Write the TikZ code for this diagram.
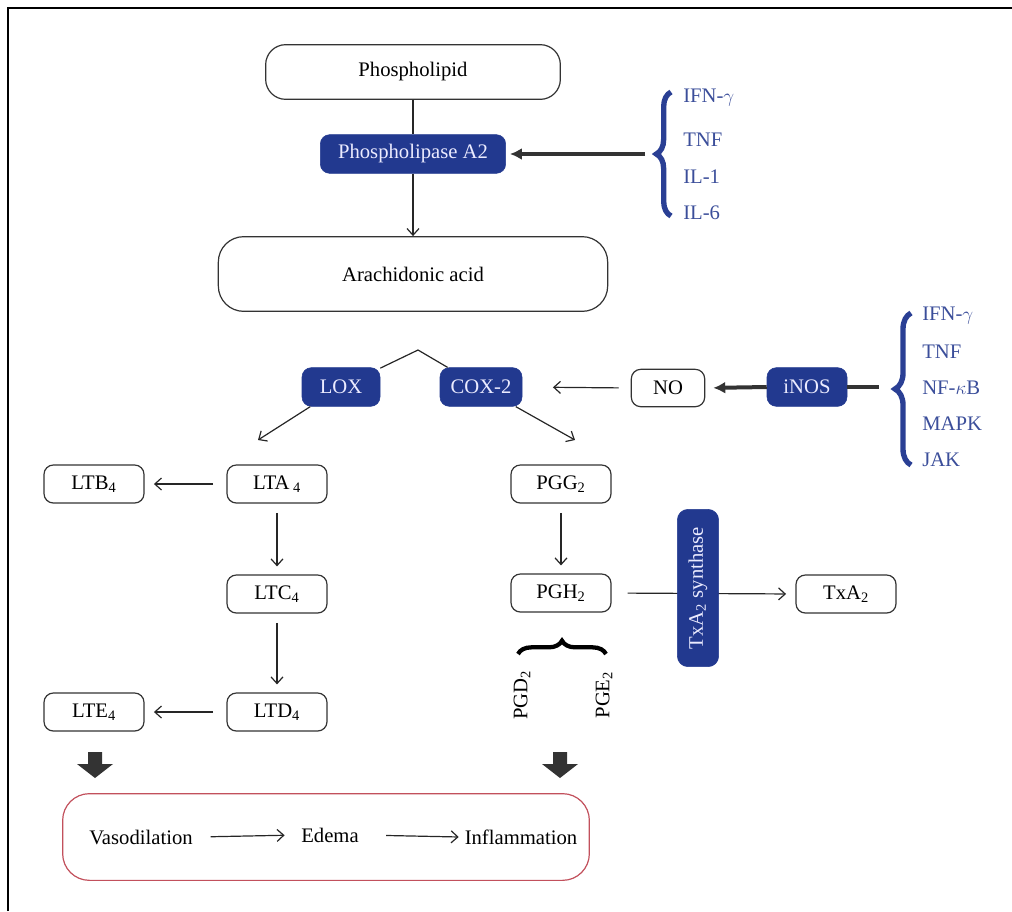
\documentclass[tikz,border=0pt]{standalone}
\usepackage{fontspec}
\setmainfont{Liberation Serif}
\usetikzlibrary{arrows.meta,decorations.pathreplacing,calc}
\definecolor{nblue}{HTML}{22398F}
\definecolor{tblue}{HTML}{3B4E9A}
\definecolor{bracec}{HTML}{2A3F94}
\definecolor{rbox}{HTML}{C2505C}
\definecolor{dgray}{HTML}{333333}
\begin{document}
\begin{tikzpicture}[x=0.75pt,y=-0.75pt,
  font=\fontsize{15.5}{18}\selectfont,
  wbox/.style={draw=black!80, line width=0.9pt, rounded corners=7pt, fill=white,
    minimum width=75pt, minimum height=28.5pt, inner sep=0pt},
  bbox/.style={fill=nblue, draw=nblue, text=white!92!blue, rounded corners=7pt,
    minimum height=29pt, inner sep=0pt},
  arr/.style={draw=black!85, line width=0.9pt, -{Straight Barb[length=5pt,width=9pt]}},
  thickarr/.style={draw=dgray, line width=3pt, -{Latex[length=9pt,width=9pt]}},
  bluebrace/.style={draw=bracec, line width=4pt, decorate,
    decoration={brace, amplitude=11pt}},
  blab/.style={text=tblue, anchor=west, inner sep=0pt},
  blockarr/.style={fill=dgray, draw=none}
]
\useasboundingbox (0,0) rectangle (1012,911);
\draw[line width=1.5pt] (8,911) -- (8,8) -- (1012,8);

% top chain
\node[wbox, minimum width=221pt, minimum height=41pt, rounded corners=15pt] (phos) at (413,72) {Phospholipid};
\node[bbox, minimum width=139pt] (pla) at (413,154) {Phospholipase A2};
\node[wbox, minimum width=292pt, minimum height=56pt, rounded corners=19pt] (ara) at (413,274) {Arachidonic acid};
\draw[draw=black!85, line width=0.9pt] (phos.south) -- (pla.north);
\draw[arr] (pla.south) -- (ara.north);

% cytokines 1
\coordinate (cyt1) at (645,154);
\draw[thickarr, shorten >=3pt] (cyt1) -- (pla.east);
\draw[bluebrace] (671,216) -- (671,92);
\node[blab] (c1a) at (683,98) {IFN-$\gamma$};
\node[blab] (c1b) at (683,140) {TNF};
\node[blab] (c1c) at (683,177) {IL-1};
\node[blab] (c1d) at (683,213) {IL-6};

% LOX / COX
\coordinate (apex) at (418,350);
\node[bbox, minimum width=58.5pt] (lox) at (341,387) {LOX};
\node[bbox, minimum width=61.5pt] (cox) at (481,387) {COX-2};
\draw[draw=black!85, line width=0.9pt] (lox) -- (apex) -- (cox);
\coordinate (lend) at (258,440);
\coordinate (cend) at (575,440);
\draw[arr] (lox) -- (lend);
\draw[arr] (cox) -- (cend);

% NO / iNOS
\node[wbox, minimum width=55pt, minimum height=28pt] (no) at (668,388) {NO};
\node[bbox, minimum width=60pt] (inos) at (807,387) {iNOS};
\draw[arr, shorten <=9pt, shorten >=23pt] (no.west) -- (cox.east);
\draw[thickarr, shorten >=6pt] (inos.west) -- (no.east);
\coordinate (cyt2) at (879,387);
\draw[draw=dgray, line width=3pt] (inos.east) -- (cyt2);
\draw[bluebrace, decoration={brace, amplitude=12pt}] (911,465) -- (911,313);
\node[blab] (c2a) at (922,316) {IFN-$\gamma$};
\node[blab] (c2b) at (922,352) {TNF};
\node[blab] (c2c) at (922,388) {NF-$\kappa$B};
\node[blab] (c2d) at (922,424) {MAPK};
\node[blab] (c2e) at (922,460) {JAK};

% leukotrienes
\node[wbox] (ltb) at (94,484) {LTB\textsubscript{4}};
\node[wbox] (lta) at (277,484) {LTA\,\textsubscript{4}};
\node[wbox] (ltc) at (277,594) {LTC\textsubscript{4}};
\node[wbox] (ltd) at (277,712) {LTD\textsubscript{4}};
\node[wbox] (lte) at (94,712) {LTE\textsubscript{4}};
\draw[arr, shorten <=10pt, shorten >=7pt] (lta.west) -- (ltb.east);
\draw[arr, shorten <=7pt, shorten >=6pt] (lta.south) -- (ltc.north);
\draw[arr, shorten <=7pt, shorten >=6pt] (ltc.south) -- (ltd.north);
\draw[arr, shorten <=10pt, shorten >=7pt] (ltd.west) -- (lte.east);

% prostaglandins
\node[wbox] (pgg) at (561,484) {PGG\textsubscript{2}};
\node[wbox] (pgh) at (561,593) {PGH\textsubscript{2}};
\node[wbox] (txa) at (846,594) {TxA\textsubscript{2}};
\draw[arr, shorten <=7pt, shorten >=6pt] (pgg.south) -- (pgh.north);
\draw[arr, shorten <=12pt, shorten >=7pt] (pgh.east) -- (txa.west);
\node[bbox, rotate=90, minimum width=118pt, minimum height=31pt, rounded corners=8pt] (txs) at (698,588) {TxA\textsubscript{2} synthase};
\draw[draw=black, line width=3.2pt, decorate, decoration={brace, amplitude=10pt}] (518,654) -- (606,654);
\node[rotate=90] (pgd) at (522,695) {PGD\textsubscript{2}};
\node[rotate=90] (pge) at (604,695) {PGE\textsubscript{2}};

% block arrows
\fill[blockarr] (88,752) -- (102,752) -- (102,764) -- (113,764) -- (95,778) -- (77,764) -- (88,764) -- cycle;
\fill[blockarr] (553,752) -- (567,752) -- (567,764) -- (578,764) -- (560,778) -- (542,764) -- (553,764) -- cycle;

% outcome box
\node[draw=rbox, line width=0.9pt, rounded corners=20pt, minimum width=395pt, minimum height=65pt] (out) at (326,837) {};
\node (vaso) at (141,837) {Vasodilation};
\node (edema) at (330,835) {Edema};
\node (infl) at (521,837) {Inflammation};
\draw[arr, shorten <=10pt, shorten >=9pt] (vaso.east) -- (edema.west);
\draw[arr, shorten <=17pt, shorten >=1pt] (edema.east) -- (infl.west);
\end{tikzpicture}
\end{document}
